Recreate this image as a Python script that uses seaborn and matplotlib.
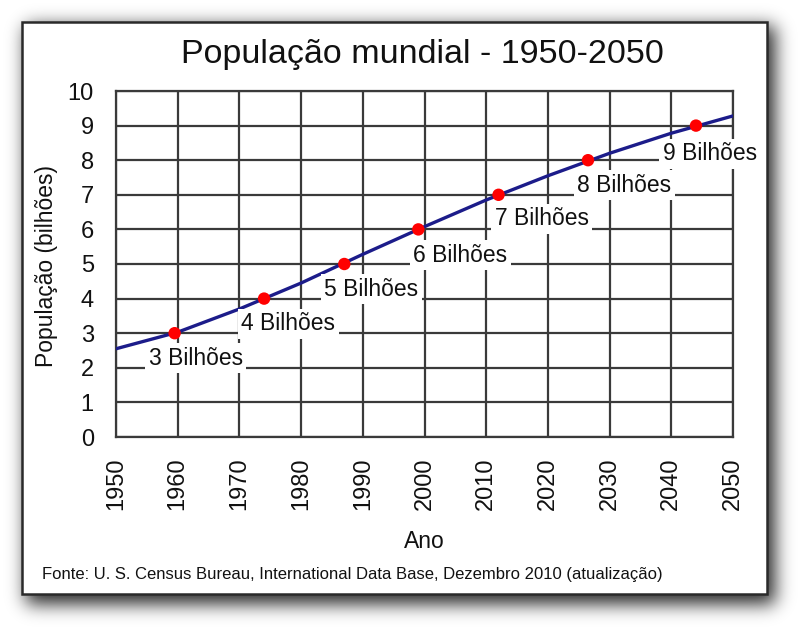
import math
import numpy as np
import pandas as pd
import matplotlib
matplotlib.use("Agg")
import matplotlib.pyplot as plt
from matplotlib.patches import Rectangle
from matplotlib import font_manager
import seaborn as sns

# ---------------- data ----------------
years_line = [1950, 1960, 1970, 1980, 1990, 2000, 2010, 2020, 2030, 2040, 2050]
pop_line = [2.55, 3.03, 3.70, 4.45, 5.28, 6.08, 6.85, 7.55, 8.20, 8.78, 9.28]

milestone_years = [1959.5, 1974, 1987, 1999, 2012, 2026.5, 2044]
milestone_pop = [3, 4, 5, 6, 7, 8, 9]
milestone_labels = ["3 Bilhões", "4 Bilhões", "5 Bilhões", "6 Bilhões",
                    "7 Bilhões", "8 Bilhões", "9 Bilhões"]

x_ticks = [1950, 1960, 1970, 1980, 1990, 2000, 2010, 2020, 2030, 2040, 2050]
y_ticks = [0, 1, 2, 3, 4, 5, 6, 7, 8, 9, 10]

title = "População mundial - 1950-2050"
xlabel = "Ano"
ylabel = "População (bilhões)"
source = "Fonte: U. S. Census Bureau, International Data Base, Dezembro 2010 (atualização)"

# ---------------- style ----------------
sns.set_style("white")
names = {f.name for f in font_manager.fontManager.ttflist}
base_font = "Liberation Sans" if "Liberation Sans" in names else "DejaVu Sans"
plt.rcParams["font.family"] = [base_font, "DejaVu Sans"]

W, H = 810, 638
DPI = 100
fig = plt.figure(figsize=(W / DPI, H / DPI), dpi=DPI)
fig.patch.set_facecolor("white")

# label offsets in pixels (dx right, dy down) from each point
label_offsets = [(21, 25), (24, 25), (27, 25), (42, 26), (43, 24), (36, 25), (14, 28)]

# ---------------- frame with drop shadow ----------------
fx0, fy0, fx1, fy1 = 22, 22, 767, 594  # pixel frame (top-origin)
bg = fig.add_axes([0, 0, 1, 1], zorder=0)
bg.set_xlim(0, W)
bg.set_ylim(H, 0)
bg.axis("off")
erf = np.frompyfunc(math.erf, 1, 1)
s = 9.0
xs = np.arange(W) + 0.5
ys = np.arange(H) + 0.5
sx0, sx1, sy0, sy1 = fx0 + 4, fx1 + 8, fy0 + 4, fy1 + 10
px = 0.5 * (erf((xs - sx0) / (s * math.sqrt(2))).astype(float)
            - erf((xs - sx1) / (s * math.sqrt(2))).astype(float))
py = 0.5 * (erf((ys - sy0) / (s * math.sqrt(2))).astype(float)
            - erf((ys - sy1) / (s * math.sqrt(2))).astype(float))
alpha = 0.85 * np.outer(py, px)
img = np.zeros((H, W, 4))
img[..., 3] = alpha
bg.imshow(img, extent=(0, W, H, 0), interpolation="bilinear", zorder=0)
bg.add_patch(Rectangle((fx0, fy0), fx1 - fx0, fy1 - fy0, facecolor="white",
                       edgecolor="#2a2a2a", linewidth=1.8, zorder=1))

# ---------------- main axes ----------------
ax_l, ax_r, ax_t, ax_b = 116, 733, 91, 437
ax = fig.add_axes([ax_l / W, 1 - ax_b / H, (ax_r - ax_l) / W, (ax_b - ax_t) / H], zorder=2)
ax.set_facecolor("none")

df_line = pd.DataFrame({"Ano": years_line, "Pop": pop_line})
df_pts = pd.DataFrame({"Ano": milestone_years, "Pop": milestone_pop})

sns.lineplot(data=df_line, x="Ano", y="Pop", ax=ax, color="#1c1c8a", linewidth=2.4, zorder=3)
sns.scatterplot(data=df_pts, x="Ano", y="Pop", ax=ax, color="#ff0000", s=80,
                edgecolor="none", zorder=4)

ax.set_xlim(1950, 2050)
ax.set_ylim(0, 10)
ax.set_xticks(x_ticks)
ax.set_yticks(y_ticks)
ax.set_xticklabels([str(v) for v in x_ticks], rotation=90)
ax.grid(True, color="#3a3a3a", linewidth=1.6, zorder=1)
ax.set_axisbelow(True)
for sp in ax.spines.values():
    sp.set_color("#3a3a3a")
    sp.set_linewidth(1.6)
ax.tick_params(axis="both", direction="out", length=7, width=1.6, color="#3a3a3a",
               labelsize=17, labelcolor="#111111")
ax.tick_params(axis="y", pad=9)
ax.tick_params(axis="x", pad=8)
ax.set_xlabel("")
ax.set_ylabel("")

for xv, yv, lab, (dx, dy) in zip(milestone_years, milestone_pop, milestone_labels, label_offsets):
    ax.annotate(lab, xy=(xv, yv), xytext=(dx * 0.72, -dy * 0.72), textcoords="offset points",
                ha="center", va="center", fontsize=16.5, color="#111111", zorder=5,
                bbox=dict(boxstyle="square,pad=0.15", facecolor="white", edgecolor="none"))

# ---------------- texts ----------------
fig.text(422 / W, 1 - 55 / H, title, ha="center", va="center", fontsize=24.5,
         color="#111111", zorder=5)
fig.text(424 / W, 1 - 541 / H, xlabel, ha="center", va="center", fontsize=16.5,
         color="#111111", zorder=5)
fig.text(47 / W, 1 - 266 / H, ylabel, ha="center", va="center", rotation=90,
         fontsize=16.5, color="#111111", zorder=5)
fig.text(42 / W, 1 - 575 / H, source, ha="left", va="center", fontsize=12,
         color="#111111", zorder=5)

fig.savefig("out.png", dpi=DPI, facecolor="white")
